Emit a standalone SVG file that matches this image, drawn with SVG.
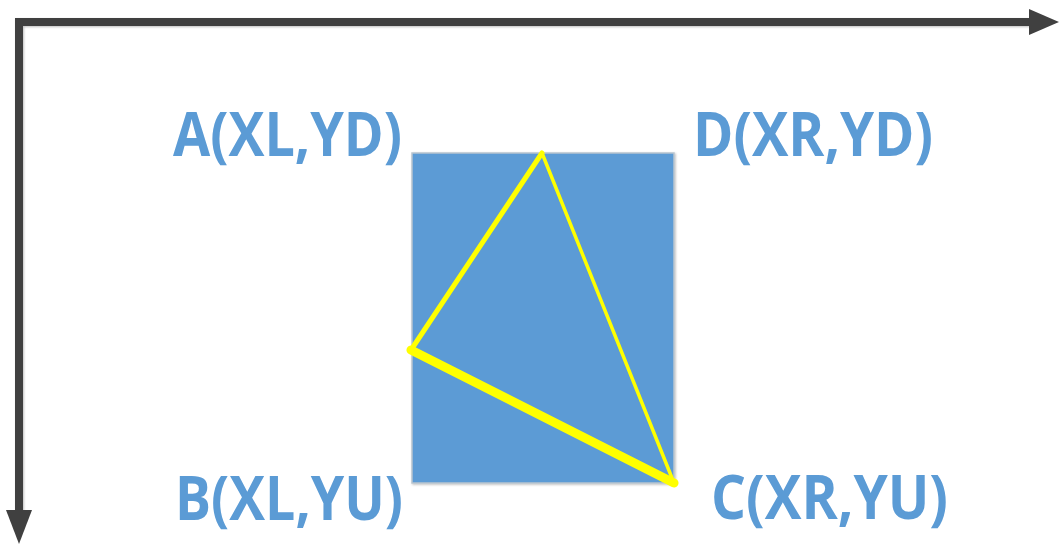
<svg xmlns="http://www.w3.org/2000/svg" width="1059" height="544" viewBox="0 0 1059 544">
  <style>
    .lbl { font-family: "Open Sans", "Liberation Sans", sans-serif; font-weight: bold; font-size: 61px; fill: #5B9BD5; }
    .axis { stroke: #404040; stroke-width: 8; fill: none; }
    .tri { stroke: #FFFF00; fill: none; stroke-linecap: round; stroke-linejoin: round; }
  </style>
  <defs>
    <filter id="sh" x="-5%" y="-5%" width="110%" height="110%">
      <feDropShadow dx="1" dy="1" stdDeviation="1" flood-color="#000" flood-opacity="0.25"/>
    </filter>
  </defs>
  <rect width="1059" height="544" fill="#FFFFFF"/>
  <g id="axes">
    <path class="axis" d="M1030,22 H19 V512" filter="url(#sh)"/>
    <polygon points="1029,9 1059,22 1029,35" fill="#404040"/>
    <polygon points="6,510 32,510 19,544" fill="#404040"/>
  </g>
  <g id="rect">
    <rect x="412" y="153" width="262" height="330" fill="#5B9BD5" stroke="#B8C4CE" stroke-width="1.5" filter="url(#sh)"/>
  </g>
  <g id="triangle">
    <line class="tri" x1="542" y1="153" x2="411" y2="350" stroke-width="5"/>
    <line class="tri" x1="542" y1="153" x2="674" y2="483" stroke-width="3.5"/>
    <line class="tri" x1="411" y1="350" x2="674" y2="483" stroke-width="9"/>
  </g>
  <g id="labels">
    <text class="lbl" x="173" y="156" textLength="229" lengthAdjust="spacingAndGlyphs">A(XL,YD)</text>
    <text class="lbl" x="693" y="156" textLength="240" lengthAdjust="spacingAndGlyphs">D(XR,YD)</text>
    <text class="lbl" x="175" y="520" textLength="228" lengthAdjust="spacingAndGlyphs">B(XL,YU)</text>
    <text class="lbl" x="711" y="519" textLength="237" lengthAdjust="spacingAndGlyphs">C(XR,YU)</text>
  </g>
</svg>
